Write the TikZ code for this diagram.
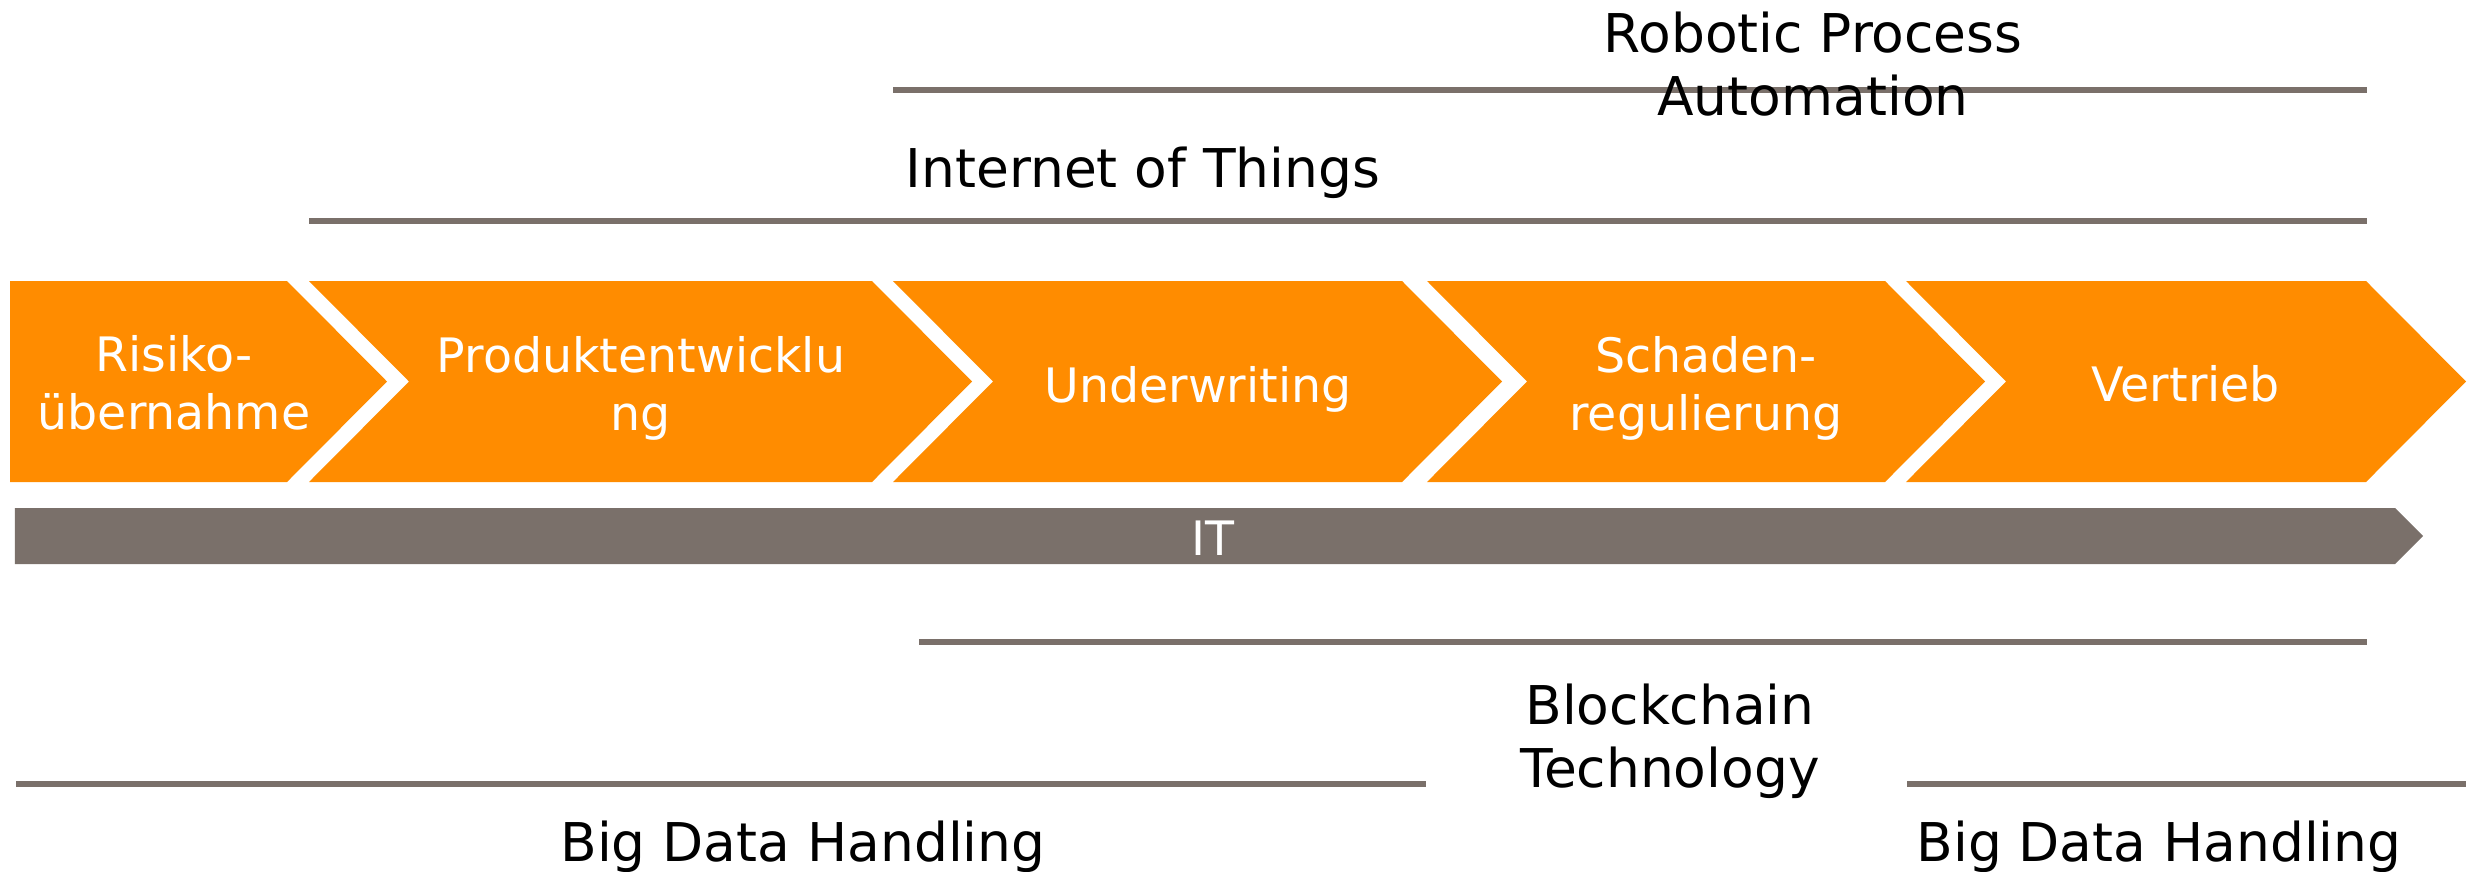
\documentclass[tikz,border=0pt]{standalone}
\usepackage{fontspec}
\setmainfont{DejaVu Sans}
\definecolor{chevorange}{RGB}{255,140,0}
\definecolor{itgray}{RGB}{122,112,106}

\begin{document}
\begin{tikzpicture}[chev/.style = {fill=chevorange},
                    chevtext/.style = {text=white, align=center, inner sep=0pt, font=\fontsize{13.5}{16.5}\selectfont},
                    techbar/.style = {draw=itgray, line width=1.7pt},
                    techlabel/.style = {text=black, align=center, inner sep=0pt, font=\fontsize{15.2}{17.9}\selectfont}]
            \useasboundingbox (0,0) rectangle (24.71,-8.71);

            \begin{scope}
                \fill[chev] (0.10,-2.81) -- (2.87,-2.81) -- (3.87,-3.815) -- (2.87,-4.82) -- (0.10,-4.82) -- cycle;
                \fill[chev] (3.09,-2.81) -- (8.72,-2.81) -- (9.72,-3.815) -- (8.72,-4.82) -- (3.09,-4.82) -- (4.09,-3.815) -- cycle;
                \fill[chev] (8.93,-2.81) -- (14.02,-2.81) -- (15.02,-3.815) -- (14.02,-4.82) -- (8.93,-4.82) -- (9.93,-3.815) -- cycle;
                \fill[chev] (14.27,-2.81) -- (18.85,-2.81) -- (19.85,-3.815) -- (18.85,-4.82) -- (14.27,-4.82) -- (15.27,-3.815) -- cycle;
                \fill[chev] (19.06,-2.81) -- (23.66,-2.81) -- (24.66,-3.815) -- (23.66,-4.82) -- (19.06,-4.82) -- (20.06,-3.815) -- cycle;

                \node[chevtext] (risiko) at (1.74,-3.825) {Risiko-\\übernahme};
                \node[chevtext] (produkt) at (6.41,-3.88) {Produktentwicklu\\ng};
                \node[chevtext] (underwriting) at (11.98,-3.89) {Underwriting};
                \node[chevtext] (schaden) at (17.06,-3.88) {Schaden-\\regulierung};
                \node[chevtext] (vertrieb) at (21.86,-3.84) {Vertrieb};
            \end{scope}

            \fill[itgray] (0.15,-5.08) -- (23.95,-5.08) -- (24.23,-5.36) -- (23.95,-5.64) -- (0.15,-5.64) -- cycle;
            \node[chevtext] (it) at (12.13,-5.385) {IT};

            \coordinate (rpaL) at (8.93,-0.90);
            \coordinate (rpaR) at (23.67,-0.90);
            \coordinate (iotL) at (3.09,-2.21);
            \coordinate (iotR) at (23.67,-2.21);
            \coordinate (bcL) at (9.19,-6.42);
            \coordinate (bcR) at (23.67,-6.42);
            \coordinate (bdLL) at (0.16,-7.84);
            \coordinate (bdLR) at (14.26,-7.84);
            \coordinate (bdRL) at (19.07,-7.84);
            \coordinate (bdRR) at (24.66,-7.84);

            \draw[techbar] (rpaL) -- (rpaR);
            \draw[techbar] (iotL) -- (iotR);
            \draw[techbar] (bcL) -- (bcR);
            \draw[techbar] (bdLL) -- (bdLR);
            \draw[techbar] (bdRL) -- (bdRR);

            \node[techlabel] (rpa) at (18.13,-0.64) {Robotic Process\\Automation};
            \node[techlabel] (iot) at (11.43,-1.73) {Internet of Things};
            \node[techlabel] (blockchain) at (16.70,-7.41) {Blockchain\\Technology};
            \node[techlabel] (bigdataL) at (8.03,-8.465) {Big Data Handling};
            \node[techlabel] (bigdataR) at (21.59,-8.465) {Big Data Handling};
        \end{tikzpicture}
\end{document}
